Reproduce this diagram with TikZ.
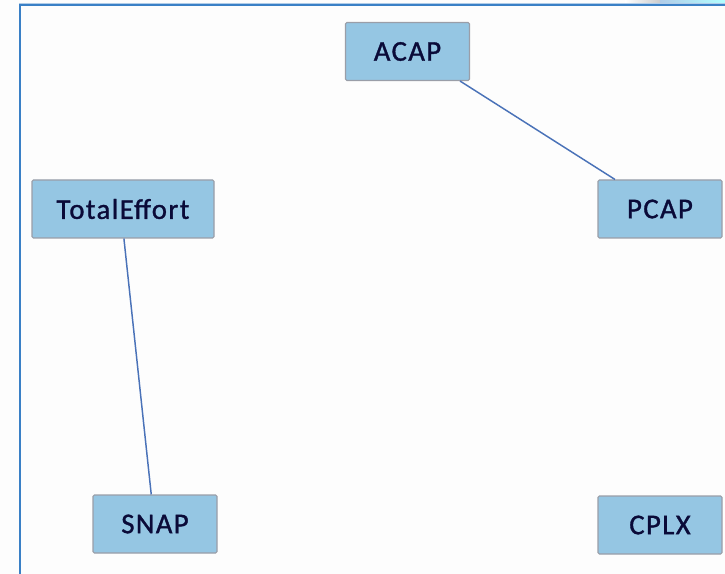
\documentclass[tikz,border=0pt]{standalone}
\usepackage{fontspec}
\setmainfont{Carlito}[FakeBold=1.2, LetterSpace=5]
\usetikzlibrary{calc}
\definecolor{boxfill}{HTML}{95C6E3}
\definecolor{boxedge}{HTML}{9A9EA8}
\definecolor{boxtext}{HTML}{0A0A38}
\definecolor{linkblue}{HTML}{4A72B8}
\definecolor{framebl}{HTML}{3A80C6}
\definecolor{pagebg}{HTML}{FDFDFD}
\tikzset{
  varbox/.style={rectangle, draw=boxedge, line width=0.8pt, fill=boxfill,
    rounded corners=1pt, minimum width=93pt, minimum height=43.5pt,
    text=boxtext, font=\fontsize{21.5}{24}\selectfont},
  link/.style={draw=linkblue, line width=1.1pt},
  frameline/.style={draw=framebl, line width=1.5pt}
}
\begin{document}
\begin{tikzpicture}[x=0.75pt,y=-0.75pt]
  \useasboundingbox (0,0) rectangle (725,574);
  \fill[pagebg] (0,0) rectangle (725,574);
  % window frame
  \fill[left color=white, right color=white!60!gray] (625,0) rectangle (660,4);
  \fill[left color=framebl!40, right color=cyan!30] (660,0) rectangle (725,4);
  \draw[framebl!40, line width=0.8pt] (19,3.5) -- (725,3.5);
  \draw[frameline] (19.5,574) -- (19.5,5.5) -- (725,5.5);
  % variable boxes
  \node[varbox] (acap) at (407.5,51.5) {ACAP};
  \node[varbox, minimum width=136.5pt] (effort) at (123,209) {TotalEffort};
  \node[varbox] (pcap) at (660,209) {PCAP};
  \node[varbox] (snap) at (155,524) {SNAP};
  \node[varbox] (cplx) at (660,525) {CPLX};
  % links
  \draw[link] ($(acap.south west)!0.92!(acap.south east)$) -- ($(pcap.north west)!0.14!(pcap.north east)$);
  \draw[link] ($(effort.south west)!0.505!(effort.south east)$) -- ($(snap.north west)!0.47!(snap.north east)$);
\end{tikzpicture}
\end{document}
